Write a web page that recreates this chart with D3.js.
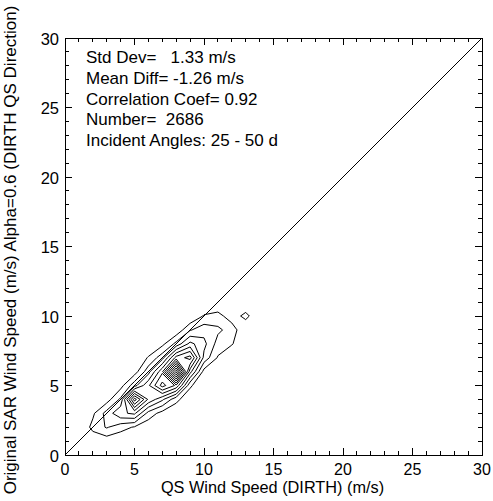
<!DOCTYPE html>
<html><head><meta charset="utf-8">
<script src="https://cdn.jsdelivr.net/npm/d3@7"></script>
<style>
body{margin:0;background:#fff}
text{font-family:"Liberation Sans",Arial,Helvetica,sans-serif;fill:#000}
</style>
</head><body>
<svg id="c" width="493" height="501"></svg>
<script>
// ---- data ----
const xDomain = [0, 30];
const yDomain = [0, 30];
const majorTicks = [0, 5, 10, 15, 20, 25, 30];
const minorTicks = [0,1,2,3,4,5,6,7,8,9,10,11,12,13,14,15,16,17,18,19,20,21,22,23,24,25,26,27,28,29,30];
const xTitle = "QS Wind Speed (DIRTH) (m/s)";
const yTitle = "Original SAR Wind Speed (m/s) Alpha=0.6 (DIRTH QS Direction)";
const statsLines = ["Std Dev=   1.33 m/s", "Mean Diff= -1.26 m/s", "Correlation Coef= 0.92", "Number=  2686", "Incident Angles: 25 - 50 d"];
// density grid nodes (m/s) and estimated relative counts per node
const gridX = [0,1,2,3,4,5,6,7,8,9,10,11,12,13,14,15,16];
const gridY = [0,1,2,3,4,5,6,7,8,9,10,11,12,13];
const row0  = [0,0,0,0,0,0,0,0,0,0,0,0,0,0,0,0,0];
const row1  = [0,0,0.3,0.4,0.2,0,0,0,0,0,0,0,0,0,0,0,0];
const row2  = [0,0,1.3,2.1,1.4,0.9,0.3,0,0,0,0,0,0,0,0,0,0];
const row3  = [0,0,0.8,2.4,3.8,4.2,1.6,0.6,0.2,0,0,0,0,0,0,0,0];
const row4  = [0,0,0,0.5,2.2,8.5,4.8,3.2,1.3,0.2,0,0,0,0,0,0,0];
const row5  = [0,0,0,0,0.6,2.6,4.8,7.4,5.8,1.2,0,0,0,0,0,0,0];
const row6  = [0,0,0,0,0,0.5,2.6,5.8,12.6,4.4,0.6,0,0,0,0,0,0];
const row7  = [0,0,0,0,0,0,1.1,2.6,6.4,7.4,2.7,0.9,0,0,0,0,0];
const row8  = [0,0,0,0,0,0,0,0.7,2.3,4.3,3.3,1.6,1.1,0,0,0,0];
const row9  = [0,0,0,0,0,0,0,0,0.2,1.9,2.6,2.2,1.6,0,0,0,0];
const row10 = [0,0,0,0,0,0,0,0,0,0,1.1,1.4,0.4,1.35,0,0,0];
const row11 = [0,0,0,0,0,0,0,0,0,0,0,0,0,0,0,0,0];
const row12 = [0,0,0,0,0,0,0,0,0,0,0,0,0,0,0,0,0];
const row13 = [0,0,0,0,0,0,0,0,0,0,0,0,0,0,0,0,0];
const contourLevels = [1,2,3,4,5,6,7,8,9,10,11,12];

// ---- layout ----
const M = {left: 65, top: 38, right: 482, bottom: 455};
const svg = d3.select("#c");
const x = d3.scaleLinear().domain(xDomain).range([M.left, M.right]);
const y = d3.scaleLinear().domain(yDomain).range([M.bottom, M.top]);

svg.append("defs").append("clipPath").attr("id","clip")
  .append("rect").attr("x",M.left).attr("y",M.top).attr("width",M.right-M.left).attr("height",M.bottom-M.top);

const plot = svg.append("g").attr("clip-path","url(#clip)");

// contours
const rows = [row0,row1,row2,row3,row4,row5,row6,row7,row8,row9,row10,row11,row12,row13];
const nx = gridX.length, ny = gridY.length;
const values = rows.flat();
const cont = d3.contours().size([nx, ny]).thresholds(contourLevels)(values);
const gx = d3.scaleLinear().domain([0.5, nx - 0.5]).range([gridX[0], gridX[nx-1]]);
const gy = d3.scaleLinear().domain([0.5, ny - 0.5]).range([gridY[0], gridY[ny-1]]);
const proj = d3.geoTransform({point: function(px, py){ this.stream.point(x(gx(px)), y(gy(py))); }});
const path = d3.geoPath(proj);
plot.selectAll("path.ct").data(cont).join("path").attr("class","ct")
  .attr("d", path).attr("fill","none").attr("stroke","#000").attr("stroke-width",1);

// diagonal
plot.append("line").attr("x1",x(0)).attr("y1",y(0)).attr("x2",x(30)).attr("y2",y(30))
  .attr("stroke","#000").attr("stroke-width",1);

// frame
const ax = svg.append("g").attr("shape-rendering","crispEdges").attr("stroke","#000").attr("stroke-width",1);
ax.append("rect").attr("x",M.left).attr("y",M.top).attr("width",M.right-M.left).attr("height",M.bottom-M.top).attr("fill","none");

const isMajor = v => majorTicks.indexOf(v) >= 0;
const tl = v => isMajor(v) ? 7 : 4;
minorTicks.forEach(v => {
  const L = tl(v);
  ax.append("line").attr("x1",x(v)).attr("x2",x(v)).attr("y1",M.bottom).attr("y2",M.bottom-L);
  ax.append("line").attr("x1",x(v)).attr("x2",x(v)).attr("y1",M.top).attr("y2",M.top+L);
  ax.append("line").attr("y1",y(v)).attr("y2",y(v)).attr("x1",M.left).attr("x2",M.left+L);
  ax.append("line").attr("y1",y(v)).attr("y2",y(v)).attr("x1",M.right).attr("x2",M.right-L);
});

// tick labels
svg.selectAll("text.xt").data(majorTicks).join("text").attr("class","xt")
  .attr("x", d => x(d)).attr("y", 474.5).attr("text-anchor","middle")
  .attr("font-size", 16).text(d => d);
svg.selectAll("text.yt").data(majorTicks).join("text").attr("class","yt")
  .attr("x", M.left - 6).attr("y", d => y(d) + 6.5).attr("text-anchor","end")
  .attr("font-size", 16.5).text(d => d);

// titles
svg.append("text").attr("x",(M.left+M.right)/2 - 1).attr("y",493).attr("text-anchor","middle")
  .attr("font-size",16.3).text(xTitle);
svg.append("text").attr("transform",`translate(15.5,250) rotate(-90)`)
  .attr("text-anchor","middle").attr("font-size",17).text(yTitle);

// stats
svg.selectAll("text.st").data(statsLines).join("text").attr("class","st")
  .attr("x", 86).attr("y", (d,i) => 63 + i*20.8).attr("font-size",17)
  .style("white-space","pre").text(d => d);
</script>
</body></html>
